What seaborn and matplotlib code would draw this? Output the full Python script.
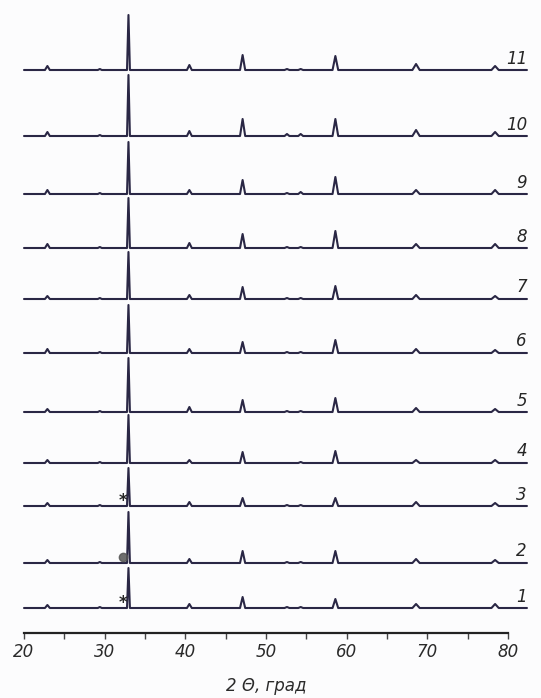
import matplotlib
matplotlib.use("Agg")
import matplotlib.pyplot as plt
import seaborn as sns
import pandas as pd

# ---- data ----
labels = ["1", "2", "3", "4", "5", "6", "7", "8", "9", "10", "11"]
offsets = [25, 70, 127, 170, 221, 280, 334, 385, 439, 497, 563]
peak_pos = [22.9, 29.4, 32.95, 40.5, 47.1, 52.6, 54.3, 58.6, 68.6, 78.4]
peak_hw = [0.3, 0.25, 0.18, 0.3, 0.32, 0.3, 0.3, 0.35, 0.45, 0.45]
heights = {
    "1":  [3, 1, 40, 4, 11, 1, 1, 9, 4, 4],
    "2":  [3, 1, 51, 4, 12, 1, 1, 12, 4, 3],
    "3":  [3, 1, 38, 4, 8, 1, 1, 8, 4, 3],
    "4":  [3, 1, 48, 3, 11, 0, 1, 12, 3, 3],
    "5":  [3, 1, 54, 5, 12, 1, 1, 14, 4, 3],
    "6":  [4, 1, 48, 4, 11, 1, 1, 13, 4, 3],
    "7":  [3, 1, 47, 4, 12, 1, 1, 13, 4, 3],
    "8":  [4, 1, 50, 5, 14, 1, 1, 17, 4, 4],
    "9":  [4, 1, 52, 4, 14, 1, 2, 17, 4, 4],
    "10": [4, 1, 61, 5, 17, 2, 2, 17, 6, 4],
    "11": [4, 1, 55, 5, 15, 1, 1, 14, 6, 4],
}
x_start, x_end = 20.0, 82.35
star_patterns = ["1", "3"]
blob_patterns = ["2"]
star_pos = 32.3
xticks = [20, 30, 40, 50, 60, 70, 80]
minor_ticks = [25, 35, 45, 55, 65, 75]

# build one table of polyline vertices per pattern
rows = []
for lab, off in zip(labels, offsets):
    rows.append((lab, x_start, off))
    for p, hw, h in zip(peak_pos, peak_hw, heights[lab]):
        rows.append((lab, p - hw, off))
        rows.append((lab, p, off + h))
        rows.append((lab, p + hw, off))
    rows.append((lab, x_end, off))
df = pd.DataFrame(rows, columns=["pattern", "two_theta", "intensity"])

sns.set_style("white")
plt.rcParams["font.family"] = ["DejaVu Sans"]

fig = plt.figure(figsize=(5.41, 6.98), dpi=100, facecolor="#fcfcfd")
ax = fig.add_axes([24 / 541, 65 / 698, 484 / 541, 623 / 698])
ax.set_facecolor("#fcfcfd")

line_color = "#2a2745"
for lab in labels:
    sub = df[df["pattern"] == lab]
    sns.lineplot(data=sub, x="two_theta", y="intensity", ax=ax,
                 color=line_color, lw=1.5, sort=False, estimator=None)
for ln in ax.lines:
    ln.set_clip_on(False)

for lab, off in zip(labels, offsets):
    ax.text(x_end, off + 2.5, lab, ha="right", va="bottom",
            fontsize=12, style="italic", color="#262626")
for lab in star_patterns:
    off = offsets[labels.index(lab)]
    ax.text(star_pos, off + 5, "*", ha="center", va="center",
            fontsize=12, fontweight="bold", color="#262626")
for lab in blob_patterns:
    off = offsets[labels.index(lab)]
    ax.plot([star_pos], [off + 6], marker="o", markersize=6,
            color="#555555", alpha=0.85, clip_on=False)

ax.set_xlim(20, 80)
ax.set_ylim(0, 623)
ax.set_yticks([])
for s in ["left", "right", "top"]:
    ax.spines[s].set_visible(False)
ax.spines["bottom"].set_linewidth(1.6)
ax.spines["bottom"].set_color("#222222")
ax.set_xticks(xticks)
ax.set_xticks(minor_ticks, minor=True)
ax.tick_params(axis="x", which="both", direction="out", length=4, width=1,
               color="#444444", bottom=True)
ax.set_xticklabels([str(t) for t in xticks], fontsize=12, style="italic",
                   color="#2a2a2a")
ax.set_xlabel("2 Θ, град", fontsize=12, style="italic", color="#2a2a2a",
              labelpad=11)
ax.set_ylabel("")
legend = ax.get_legend()
if legend:
    legend.remove()

fig.savefig("out.png", dpi=100, facecolor=fig.get_facecolor())
